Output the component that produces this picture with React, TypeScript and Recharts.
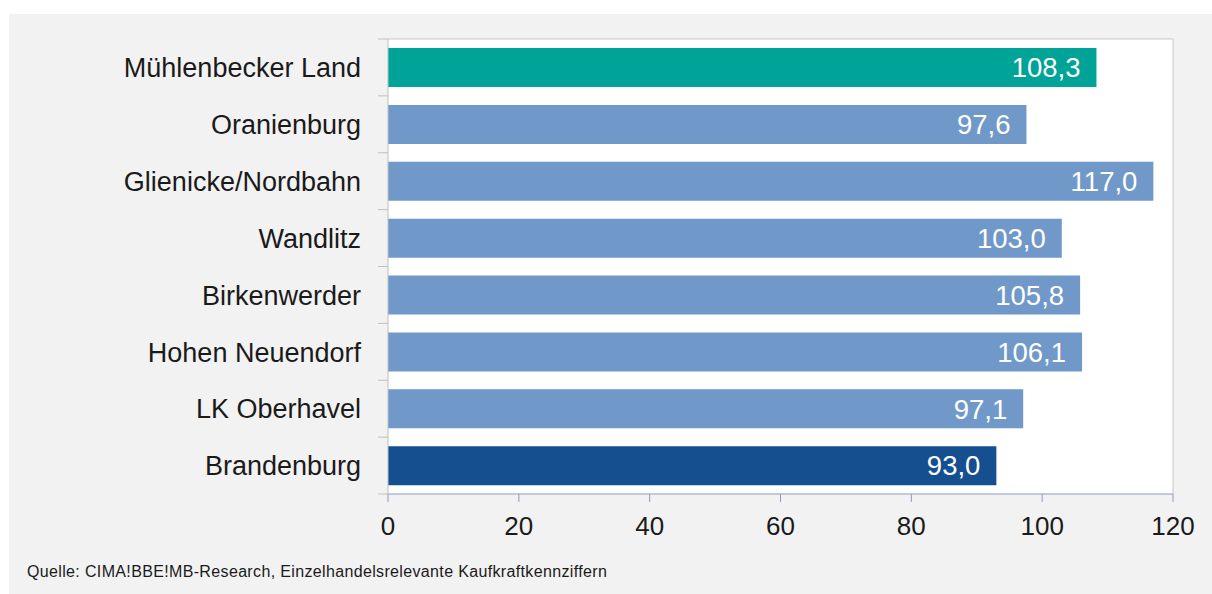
import { BarChart, Bar, XAxis, YAxis, CartesianGrid, Cell, LabelList } from "recharts"

const categories = [
  "Mühlenbecker Land",
  "Oranienburg",
  "Glienicke/Nordbahn",
  "Wandlitz",
  "Birkenwerder",
  "Hohen Neuendorf",
  "LK Oberhavel",
  "Brandenburg",
]
const values = [108.3, 97.6, 117.0, 103.0, 105.8, 106.1, 97.1, 93.0]
const barColors = [
  "#00a398",
  "#7099ca",
  "#7099ca",
  "#7099ca",
  "#7099ca",
  "#7099ca",
  "#7099ca",
  "#154f90",
]
const xTicks = [0, 20, 40, 60, 80, 100, 120]
const source = "Quelle: CIMA!BBE!MB-Research, Einzelhandelsrelevante Kaufkraftkennziffern"

const data = categories.map((name, i) => ({ name, value: values[i], color: barColors[i] }))

const FONT = "'Liberation Sans', Arial, sans-serif"
const W = 1203
const H = 580
const MARGIN = { top: 25, right: 39, bottom: 55, left: 0 }
const Y_WIDTH = 379
const BAND = (H - MARGIN.top - MARGIN.bottom - 45) / categories.length

const fmt = (v: number) => v.toFixed(1).replace(".", ",")

const CategoryTick = (props: any) => {
  const { y, payload, index } = props
  const axisX = MARGIN.left + Y_WIDTH
  return (
    <g>
      {index === 0 && (
        <line x1={axisX - 10} x2={axisX} y1={y - BAND / 2} y2={y - BAND / 2} stroke="#bfbfbf" />
      )}
      <line x1={axisX - 10} x2={axisX} y1={y + BAND / 2} y2={y + BAND / 2} stroke="#bfbfbf" />
      <text
        x={axisX - 27}
        y={y}
        dy="0.36em"
        textAnchor="end"
        fill="#1a1a1a"
        fontSize={27}
        fontFamily={FONT}
      >
        {payload.value}
      </text>
    </g>
  )
}

export default function App() {
  return (
    <div style={{ position: "absolute", left: 0, top: 0, width: 1212, height: 594, background: "#fff" }}>
      <div style={{ position: "absolute", left: 9, top: 14, width: W, height: H, background: "#f2f2f2" }}>
        <BarChart width={W} height={H} data={data} layout="vertical" margin={MARGIN}>
          <CartesianGrid
            fill="#ffffff"
            fillOpacity={1}
            stroke="#c8c8c8"
            horizontalCoordinatesGenerator={({ offset }: any) => [offset.top]}
            verticalCoordinatesGenerator={({ offset }: any) => [offset.left + offset.width]}
          />
          <XAxis
            type="number"
            domain={[0, 120]}
            ticks={xTicks}
            height={45}
            stroke="#8a9cb8"
            tickSize={8}
            tickMargin={15}
            tick={{ fill: "#1a1a1a", fontSize: 26, fontFamily: FONT }}
          />
          <YAxis
            type="category"
            dataKey="name"
            width={Y_WIDTH}
            stroke="#bfbfbf"
            tickLine={false}
            tick={<CategoryTick />}
            interval={0}
          />
          <Bar dataKey="value" barSize={39} isAnimationActive={false}>
            {data.map((d) => (
              <Cell key={d.name} fill={d.color} />
            ))}
            <LabelList
              dataKey="value"
              position="insideRight"
              offset={16}
              fill="#ffffff"
              fontSize={27.5}
              fontFamily={FONT}
              formatter={(v: any) => fmt(Number(v))}
            />
          </Bar>
        </BarChart>
        <div
          style={{
            position: "absolute",
            left: 18,
            top: 549,
            fontFamily: FONT,
            fontSize: 16,
            color: "#1a1a1a",
            letterSpacing: 0.35,
            whiteSpace: "nowrap",
          }}
        >
          {source}
        </div>
      </div>
    </div>
  )
}
